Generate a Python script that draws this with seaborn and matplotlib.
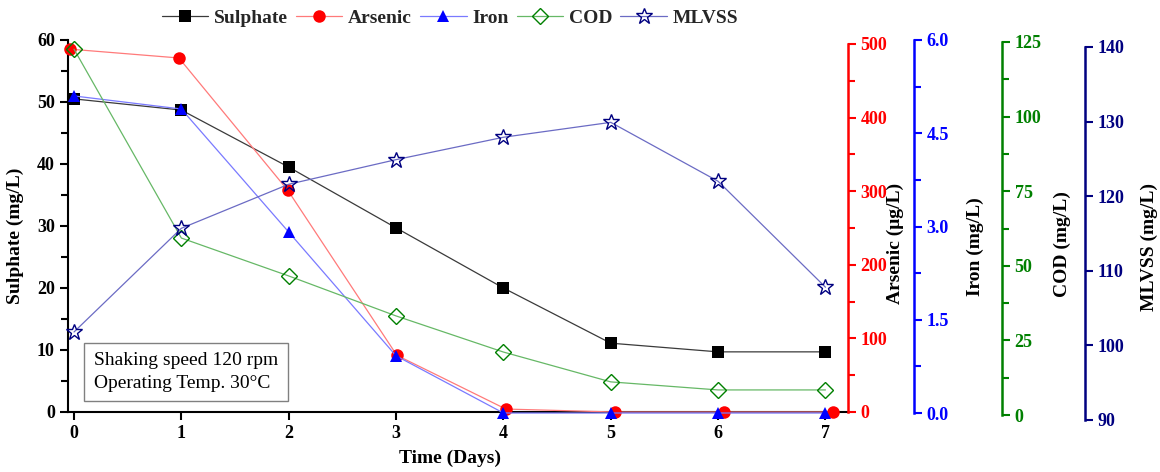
import matplotlib
matplotlib.use("Agg")
import matplotlib.pyplot as plt
from matplotlib.lines import Line2D
from matplotlib.ticker import MultipleLocator, FormatStrFormatter
import seaborn as sns

# Treatment time series
days = [0, 1, 2, 3, 4, 5, 6, 7]
sulphate = [50.5, 48.7, 39.5, 29.7, 20.0, 11.1, 9.7, 9.7]        # mg/L
arsenic = [493, 481, 301, 77, 4, 0, 0, 0]                         # µg/L
iron = [5.10, 4.89, 2.91, 0.92, 0.0, 0.0, 0.0, 0.0]               # mg/L
cod = [122.6, 59.3, 46.6, 33.2, 21.1, 11.1, 8.4, 8.4]             # mg/L
mlvss = [101.8, 115.7, 121.6, 124.9, 127.9, 129.9, 122.0, 107.8]  # mg/L

series_names = ["Sulphate", "Arsenic", "Iron", "COD", "MLVSS"]
axis_labels = ["Sulphate (mg/L)", "Arsenic (\u03bcg/L)", "Iron (mg/L)",
               "COD (mg/L)", "MLVSS (mg/L)"]
note_lines = ["Shaking speed 120 rpm", "Operating Temp. 30\u00b0C"]

sns.set_style("ticks")
plt.rcParams["font.family"] = ["Liberation Serif", "DejaVu Serif"]

W, H = 1160, 472
fig = plt.figure(figsize=(W / 100, H / 100), dpi=100)


def fx(px):
    return px / W


def fy(py):
    return 1 - py / H


left, right = 68, 848
width = fx(right) - fx(left)


def make_axes(top_px, bottom_px, main=False):
    ax = fig.add_axes([fx(left), fy(bottom_px), width, fy(top_px) - fy(bottom_px)])
    ax.patch.set_alpha(0)
    if not main:
        ax.spines["left"].set_visible(False)
        ax.spines["bottom"].set_visible(False)
        ax.spines["top"].set_visible(False)
        ax.xaxis.set_visible(False)
        ax.yaxis.tick_right()
        ax.yaxis.set_label_position("right")
    return ax


ax_s = make_axes(40, 412, main=True)
ax_a = make_axes(44, 412)
ax_i = make_axes(40, 413)
ax_c = make_axes(42, 415)
ax_m = make_axes(47, 420)

xlim_main = (-0.056, 7.21)
for ax in (ax_s, ax_i, ax_c, ax_m):
    ax.set_xlim(*xlim_main)
ax_a.set_xlim(-0.018, 7.14)

ax_s.spines["top"].set_visible(False)
ax_s.spines["right"].set_visible(False)

colors = {
    "Sulphate": ("#000000", "#3a3a3a"),
    "Arsenic": ("#ff0000", "#ff7a7a"),
    "Iron": ("#0000ff", "#7a7aff"),
    "COD": ("#008000", "#66b866"),
    "MLVSS": ("#000080", "#6b6bc4"),
}
styles = {
    "Sulphate": dict(marker="s", markersize=8, filled=True),
    "Arsenic": dict(marker="o", markersize=9, filled=True),
    "Iron": dict(marker="^", markersize=9, filled=True),
    "COD": dict(marker="D", markersize=8, filled=False),
    "MLVSS": dict(marker="*", markersize=12, filled=False),
}

axes_map = {"Sulphate": ax_s, "Arsenic": ax_a, "Iron": ax_i, "COD": ax_c, "MLVSS": ax_m}
data_map = {"Sulphate": sulphate, "Arsenic": arsenic, "Iron": iron, "COD": cod, "MLVSS": mlvss}

handles = []
for name in series_names:
    mc, lc = colors[name]
    st = styles[name]
    mfc = mc if st["filled"] else "none"
    mew = 0.0 if st["filled"] else 1.0
    sns.lineplot(x=days, y=data_map[name], ax=axes_map[name], color=lc, linewidth=0.9,
                 marker=st["marker"], markersize=st["markersize"], markerfacecolor=mfc,
                 markeredgecolor=mc, markeredgewidth=mew, clip_on=False, zorder=5)
    handles.append(Line2D([], [], color=lc, lw=0.9, marker=st["marker"],
                          markersize=st["markersize"], markerfacecolor=mfc,
                          markeredgecolor=mc, markeredgewidth=mew))

# Axis limits and ticks
ax_s.set_ylim(0, 60)
ax_s.yaxis.set_major_locator(MultipleLocator(10))
ax_s.yaxis.set_minor_locator(MultipleLocator(5))
ax_s.set_xticks(days)

ax_a.set_ylim(0, 500)
ax_a.yaxis.set_major_locator(MultipleLocator(100))
ax_a.yaxis.set_minor_locator(MultipleLocator(50))

ax_i.set_ylim(0, 6)
ax_i.yaxis.set_major_locator(MultipleLocator(1.5))
ax_i.yaxis.set_minor_locator(MultipleLocator(0.75))
ax_i.yaxis.set_major_formatter(FormatStrFormatter("%.1f"))

ax_c.set_ylim(0, 125)
ax_c.yaxis.set_major_locator(MultipleLocator(25))
ax_c.yaxis.set_minor_locator(MultipleLocator(12.5))

ax_m.set_ylim(90, 140)
ax_m.yaxis.set_major_locator(MultipleLocator(10))

spine_pos = {"Arsenic": 1.0, "Iron": (914 - left) / (right - left),
             "COD": (1002 - left) / (right - left), "MLVSS": (1085 - left) / (right - left)}

TICK_SIZE = 13
for sp in ("left", "bottom"):
    ax_s.spines[sp].set_linewidth(1.5)
    ax_s.spines[sp].set_color("#000000")
ax_s.tick_params(which="both", direction="out", width=1.5, colors="#000000",
                 labelsize=TICK_SIZE)
ax_s.tick_params(which="major", length=6)
ax_s.tick_params(which="minor", length=5)
for lab in ax_s.get_xticklabels() + ax_s.get_yticklabels():
    lab.set_fontweight("bold")

for name in series_names[1:]:
    ax = axes_map[name]
    mc = colors[name][0]
    ax.spines["right"].set_position(("axes", spine_pos[name]))
    ax.spines["right"].set_linewidth(1.8)
    ax.spines["right"].set_color(mc)
    ax.tick_params(axis="y", which="both", direction="out", width=1.5, colors=mc,
                   labelsize=TICK_SIZE, pad=3)
    ax.tick_params(axis="y", which="major", length=6)
    ax.tick_params(axis="y", which="minor", length=5)
    for lab in ax.get_yticklabels():
        lab.set_fontweight("bold")

# Axis titles
label_font = dict(fontsize=14, fontweight="bold", color="#000000")
ax_s.set_xlabel("Time (Days)", va="center", ha="center", **label_font)
ax_s.xaxis.set_label_coords(fx(450), fy(458), transform=fig.transFigure)
ax_s.set_ylabel(axis_labels[0], va="center", ha="center", **label_font)
ax_s.yaxis.set_label_coords(fx(15), fy(236), transform=fig.transFigure)

label_pos = {"Arsenic": (895, 243), "Iron": (975, 247), "COD": (1062, 244),
             "MLVSS": (1149, 247)}
for name, lab in zip(series_names[1:], axis_labels[1:]):
    ax = axes_map[name]
    ax.set_ylabel(lab, rotation=90, va="center", ha="center", **label_font)
    px, py = label_pos[name]
    ax.yaxis.set_label_coords(fx(px), fy(py), transform=fig.transFigure)

# Legend across the top
fig.legend(handles, series_names, loc="center", bbox_to_anchor=(fx(450), fy(18)),
           ncol=5, frameon=False, handlelength=2.4, handletextpad=0.3,
           columnspacing=0.4, prop=dict(family="Liberation Serif", weight="bold", size=14))

# Operating conditions note
fig.text(fx(94), fy(372), "\n".join(note_lines), fontsize=14, ha="left", va="center",
         linespacing=1.4, color="#000000",
         bbox=dict(boxstyle="square,pad=0.5", facecolor="white", edgecolor="#808080",
                   linewidth=1.0))

fig.savefig("out.png", dpi=100)
